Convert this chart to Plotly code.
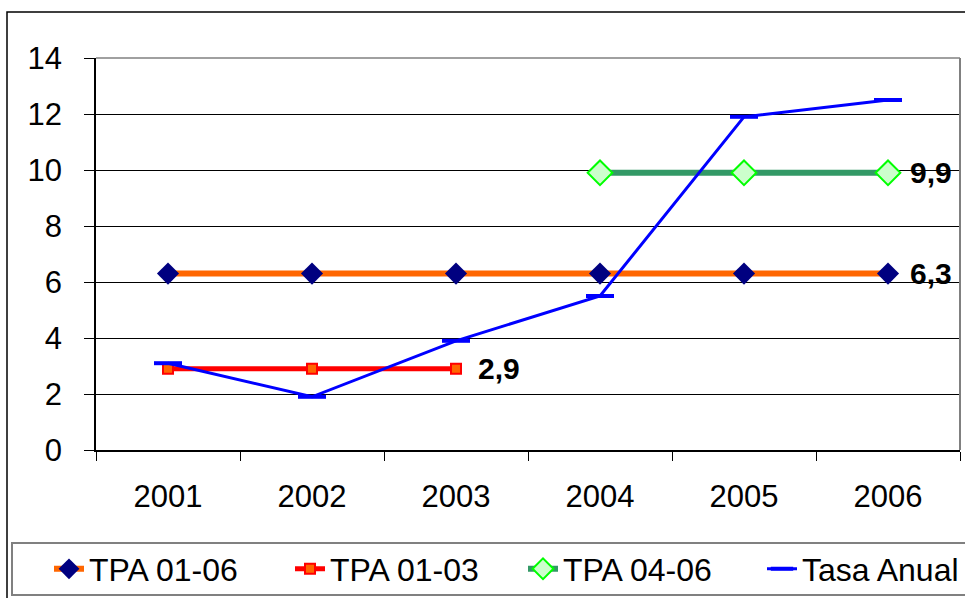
import plotly.graph_objects as go

# data
years = ["2001", "2002", "2003", "2004", "2005", "2006"]
tpa_01_06 = [6.3, 6.3, 6.3, 6.3, 6.3, 6.3]
years_01_03 = ["2001", "2002", "2003"]
tpa_01_03 = [2.9, 2.9, 2.9]
years_04_06 = ["2004", "2005", "2006"]
tpa_04_06 = [9.9, 9.9, 9.9]
tasa_anual = [3.1, 1.9, 3.9, 5.5, 11.9, 12.5]
y_ticks = [0, 2, 4, 6, 8, 10, 12, 14]

FONT = "Liberation Sans, Arial, sans-serif"

# plot area in pixels (for converting page positions to paper coords)
W, H = 965, 598
L, R, T, B = 96, 5, 58, 148
pw, ph = W - L - R, H - T - B


def px(x):
    return (x - L) / pw


def py(y):
    return (H - B - y) / ph


fig = go.Figure()

fig.add_trace(go.Scatter(
    x=years, y=tpa_01_06, name="TPA 01-06", mode="lines+markers",
    line=dict(color="#FF6600", width=6),
    marker=dict(symbol="diamond", size=17, color="#000080"),
    legend="legend",
))
fig.add_trace(go.Scatter(
    x=years_01_03, y=tpa_01_03, name="TPA 01-03", mode="lines+markers",
    line=dict(color="#FF0000", width=5),
    marker=dict(symbol="square", size=10, color="#FF6600",
                line=dict(color="#FF0000", width=2)),
    legend="legend2",
))
fig.add_trace(go.Scatter(
    x=years_04_06, y=tpa_04_06, name="TPA 04-06", mode="lines+markers",
    line=dict(color="#339966", width=6),
    marker=dict(symbol="diamond", size=19, color="#CCFFCC",
                line=dict(color="#00FF00", width=2)),
    legend="legend3",
))
fig.add_trace(go.Scatter(
    x=years, y=tasa_anual, name="Tasa Anual", mode="lines+markers",
    line=dict(color="#0000FF", width=3),
    marker=dict(symbol="line-ew", size=20, color="#0000FF",
                line=dict(color="#0000FF", width=4)),
    legend="legend4",
))

# value labels at the end of each TPA series (x as category index)
for xs, ys in [(years, tpa_01_06), (years_01_03, tpa_01_03), (years_04_06, tpa_04_06)]:
    fig.add_annotation(
        x=years.index(xs[-1]), y=ys[-1],
        text="<b>" + f"{ys[-1]:.1f}".replace(".", ",") + "</b>",
        showarrow=False, xanchor="left", yanchor="middle", xshift=20,
        font=dict(family=FONT, size=30, color="black"),
    )

shapes = [
    # outer chart border
    dict(type="rect", xref="paper", yref="paper",
         x0=px(7), x1=px(1100), y0=py(700), y1=py(12),
         line=dict(color="black", width=1.5), layer="below"),
    # gray top/right edge of plot area
    dict(type="line", xref="paper", yref="paper", x0=0, x1=1, y0=1, y1=1,
         line=dict(color="#808080", width=1.5)),
    dict(type="line", xref="paper", yref="paper", x0=1, x1=1, y0=0, y1=1,
         line=dict(color="#808080", width=2)),
    # legend box
    dict(type="rect", xref="paper", yref="paper",
         x0=px(12), x1=px(1100), y0=py(595), y1=py(543),
         line=dict(color="#808080", width=2)),
]


def legend_at(left):
    return dict(
        orientation="h", x=px(left), xanchor="left", y=py(569), yanchor="middle",
        font=dict(family=FONT, size=32), bgcolor="rgba(0,0,0,0)", borderwidth=0,
    )


fig.update_layout(
    width=W, height=H,
    margin=dict(l=L, r=R, t=T, b=B, autoexpand=False),
    paper_bgcolor="white", plot_bgcolor="white",
    font=dict(family=FONT, size=31, color="black"),
    shapes=shapes,
    showlegend=True,
    legend=legend_at(49),
    legend2=legend_at(290),
    legend3=legend_at(523),
    legend4=legend_at(762),
    xaxis=dict(
        type="category", categoryorder="array", categoryarray=years,
        range=[-0.5, 5.5], showgrid=False, showline=True, linecolor="black",
        linewidth=1.5, ticks="outside", tickson="boundaries", ticklen=9,
        tickcolor="black", ticklabelstandoff=18, zeroline=False,
        automargin=False,
    ),
    yaxis=dict(
        range=[0, 14], tickvals=y_ticks, showgrid=True, gridcolor="black",
        gridwidth=1, showline=True, linecolor="black", linewidth=1.5,
        ticks="outside", ticklen=10, tickcolor="black",
        ticklabelstandoff=16, zeroline=False, automargin=False,
    ),
)

# drop the default page margin so the figure sits at the window's corner
fig.write_html("out.html", config={"displayModeBar": False},
               post_script="document.body.style.margin = '0';")
